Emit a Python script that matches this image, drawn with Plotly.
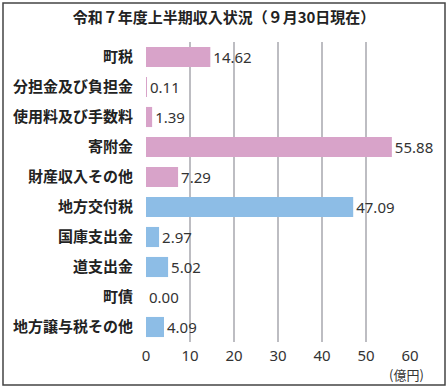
import plotly.graph_objects as go

categories = ["町税", "分担金及び負担金", "使用料及び手数料", "寄附金", "財産収入その他",
              "地方交付税", "国庫支出金", "道支出金", "町債", "地方譲与税その他"]
values = [14.62, 0.11, 1.39, 55.88, 7.29, 47.09, 2.97, 5.02, 0.00, 4.09]
groups = ["own", "own", "own", "own", "own", "dep", "dep", "dep", "dep", "dep"]
x_ticks = [0, 10, 20, 30, 40, 50, 60]

color_map = {"own": "#d8a3c9", "dep": "#8dbde6"}
colors = [color_map[g] for g in groups]

L, R, T, B = 146, 38, 42, 47
W, H = 448, 389
pw, ph = W - L - R, H - T - B

fig = go.Figure(go.Bar(
    y=categories, x=values, orientation="h",
    marker=dict(color=colors, line=dict(width=0)),
    text=[f"{v:.2f}" for v in values], textposition="outside",
    textfont=dict(size=15, color="#333333", family="Noto Sans"),
    cliponaxis=False,
))

fig.update_layout(
    width=W, height=H,
    margin=dict(l=L, r=R, t=T, b=B, autoexpand=False),
    paper_bgcolor="white", plot_bgcolor="white",
    bargap=0.33,
    showlegend=False,
    font=dict(family="Noto Sans CJK JP", color="#222222"),
    title=dict(text="<b>令和７年度上半期収入状況（９月30日現在）</b>", x=0.5, xanchor="center",
               y=1 - 18 / H, yanchor="middle", font=dict(size=15, color="#222222")),
    xaxis=dict(range=[0, 60], tickvals=x_ticks, showgrid=True, gridcolor="#bdbdc2", gridwidth=2,
               zeroline=False, showline=False, ticks="", automargin=False,
               tickfont=dict(size=15, color="#333333", family="Noto Sans"),
               ticklabelstandoff=3),
    yaxis=dict(autorange="reversed", ticks="", showline=False, automargin=False,
               tickfont=dict(size=15, color="#222222", weight="bold"), ticklabelstandoff=12),
)

fig.add_annotation(text="(億円)", xref="paper", yref="paper",
                   x=(426 - L) / pw, y=(342 - 374) / ph, xanchor="right", yanchor="middle",
                   showarrow=False, font=dict(size=13, color="#333333"))

fig.add_shape(type="rect", xref="paper", yref="paper",
              x0=(3 - L) / pw, x1=(445 - L) / pw, y0=(342 - 385) / ph, y1=(342 - 3) / ph,
              line=dict(color="#444444", width=1.5), fillcolor="rgba(0,0,0,0)", layer="below")

fig.write_html("out.html", config={"displayModeBar": False},
               post_script="document.body.style.margin='0';")
